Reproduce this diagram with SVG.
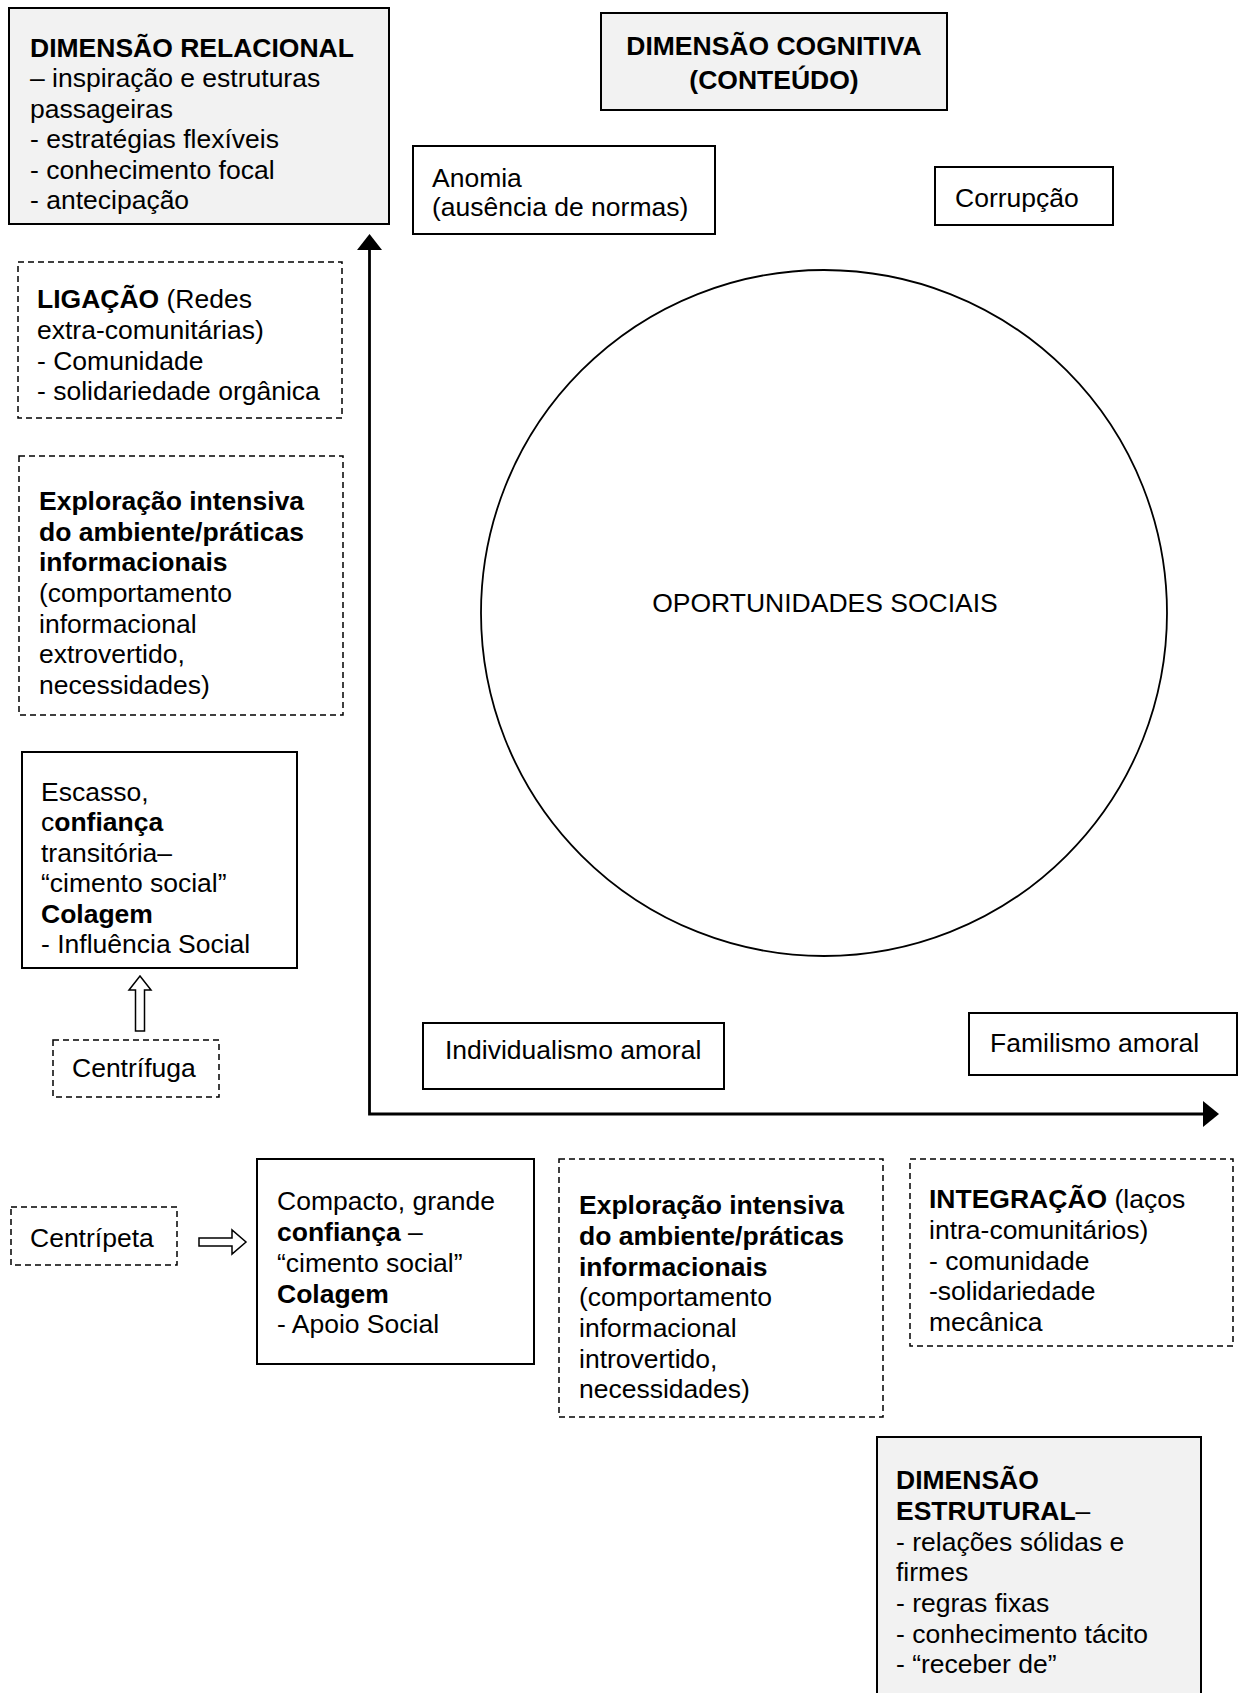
<svg xmlns="http://www.w3.org/2000/svg" width="1244" height="1693" viewBox="0 0 1244 1693">
  <style>
    text { font-family: "Liberation Sans", Arial, sans-serif; font-size: 26.5px; fill: #000; }
    .b { font-weight: bold; }
    .box { fill: #fff; stroke: #000; stroke-width: 2; }
    .dim { fill: #f2f2f2; stroke: #000; stroke-width: 2; }
    .dash { fill: #fff; stroke: #000; stroke-width: 1.5; stroke-dasharray: 6 4; }
    .axis { fill: none; stroke: #000; stroke-width: 2.8; }
    .head { fill: #000; stroke: none; }
    .hollow { fill: #fff; stroke: #000; stroke-width: 1.5; stroke-linejoin: miter; }
    .mid { text-anchor: middle; }
  </style>
  <rect width="1244" height="1693" fill="#fff"/>

  <!-- axes and hollow arrows -->
  <g id="connectors">
    <polyline class="axis" points="369.5,248 369.5,1114 1205,1114"/>
    <polygon class="head" points="357,250 369.5,234 382,250"/>
    <polygon class="head" points="1203,1101 1219,1114 1203,1127"/>
    <polygon class="hollow" points="135.5,1031 135.5,990 129,990 140,976 151,990 144.5,990 144.5,1031"/>
    <polygon class="hollow" points="199,1238 232,1238 232,1230 246,1242 232,1254 232,1246 199,1246"/>
  </g>

  <g id="dim-relacional">
    <rect class="dim" x="9" y="8" width="380" height="216"/>
    <text x="30" y="57" class="b">DIMENSÃO RELACIONAL</text>
    <text x="30" y="87">– inspiração e estruturas</text>
    <text x="30" y="118">passageiras</text>
    <text x="30" y="148">- estratégias flexíveis</text>
    <text x="30" y="179">- conhecimento focal</text>
    <text x="30" y="209">- antecipação</text>
  </g>

  <g id="dim-cognitiva">
    <rect class="dim" x="601" y="13" width="346" height="97"/>
    <text x="774" y="55" class="b mid">DIMENSÃO COGNITIVA</text>
    <text x="774" y="89" class="b mid">(CONTEÚDO)</text>
  </g>

  <g id="anomia">
    <rect class="box" x="413" y="146" width="302" height="88"/>
    <text x="432" y="187">Anomia</text>
    <text x="432" y="216">(ausência de normas)</text>
  </g>

  <g id="corrupcao">
    <rect class="box" x="935" y="167" width="178" height="58"/>
    <text x="955" y="207">Corrupção</text>
  </g>

  <g id="ligacao">
    <rect class="dash" x="18" y="262" width="324" height="156"/>
    <text x="37" y="308"><tspan class="b">LIGAÇÃO</tspan> (Redes</text>
    <text x="37" y="339">extra-comunitárias)</text>
    <text x="37" y="370">- Comunidade</text>
    <text x="37" y="400">- solidariedade orgânica</text>
  </g>

  <g id="exploracao-extrovertido">
    <rect class="dash" x="19" y="456" width="324" height="259"/>
    <text x="39" y="510" class="b">Exploração intensiva</text>
    <text x="39" y="541" class="b">do ambiente/práticas</text>
    <text x="39" y="571" class="b">informacionais</text>
    <text x="39" y="602">(comportamento</text>
    <text x="39" y="633">informacional</text>
    <text x="39" y="663">extrovertido,</text>
    <text x="39" y="694">necessidades)</text>
  </g>

  <g id="oportunidades">
    <circle cx="824" cy="613" r="343" fill="#fff" stroke="#000" stroke-width="1.8"/>
    <text x="825" y="612" class="mid">OPORTUNIDADES SOCIAIS</text>
  </g>

  <g id="escasso">
    <rect class="box" x="22" y="752" width="275" height="216"/>
    <text x="41" y="801">Escasso,</text>
    <text x="41" y="831">c<tspan class="b">onfiança</tspan></text>
    <text x="41" y="862">transitória–</text>
    <text x="41" y="892">“cimento social”</text>
    <text x="41" y="923" class="b">Colagem</text>
    <text x="41" y="953">- Influência Social</text>
  </g>

  <g id="centrifuga">
    <rect class="dash" x="53" y="1040" width="166" height="57"/>
    <text x="72" y="1077">Centrífuga</text>
  </g>

  <g id="individualismo">
    <rect class="box" x="423" y="1023" width="301" height="66"/>
    <text x="445" y="1059">Individualismo amoral</text>
  </g>

  <g id="familismo">
    <rect class="box" x="969" y="1013" width="268" height="62"/>
    <text x="990" y="1052">Familismo amoral</text>
  </g>

  <g id="centripeta">
    <rect class="dash" x="11" y="1207" width="166" height="58"/>
    <text x="30" y="1247">Centrípeta</text>
  </g>

  <g id="compacto">
    <rect class="box" x="257" y="1159" width="277" height="205"/>
    <text x="277" y="1210">Compacto, grande</text>
    <text x="277" y="1241"><tspan class="b">confiança</tspan> –</text>
    <text x="277" y="1272">“cimento social”</text>
    <text x="277" y="1303" class="b">Colagem</text>
    <text x="277" y="1333">- Apoio Social</text>
  </g>

  <g id="exploracao-introvertido">
    <rect class="dash" x="559" y="1159" width="324" height="258"/>
    <text x="579" y="1214" class="b">Exploração intensiva</text>
    <text x="579" y="1245" class="b">do ambiente/práticas</text>
    <text x="579" y="1276" class="b">informacionais</text>
    <text x="579" y="1306">(comportamento</text>
    <text x="579" y="1337">informacional</text>
    <text x="579" y="1368">introvertido,</text>
    <text x="579" y="1398">necessidades)</text>
  </g>

  <g id="integracao">
    <rect class="dash" x="910" y="1159" width="323" height="187"/>
    <text x="929" y="1208"><tspan class="b">INTEGRAÇÃO</tspan> (laços</text>
    <text x="929" y="1239">intra-comunitários)</text>
    <text x="929" y="1270">- comunidade</text>
    <text x="929" y="1300">-solidariedade</text>
    <text x="929" y="1331">mecânica</text>
  </g>

  <g id="dim-estrutural">
    <rect class="dim" x="877" y="1437" width="324" height="270"/>
    <text x="896" y="1489" class="b">DIMENSÃO</text>
    <text x="896" y="1520"><tspan class="b">ESTRUTURAL</tspan>–</text>
    <text x="896" y="1551">- relações sólidas e</text>
    <text x="896" y="1581">firmes</text>
    <text x="896" y="1612">- regras fixas</text>
    <text x="896" y="1643">- conhecimento tácito</text>
    <text x="896" y="1673">- “receber de”</text>
  </g>
</svg>
